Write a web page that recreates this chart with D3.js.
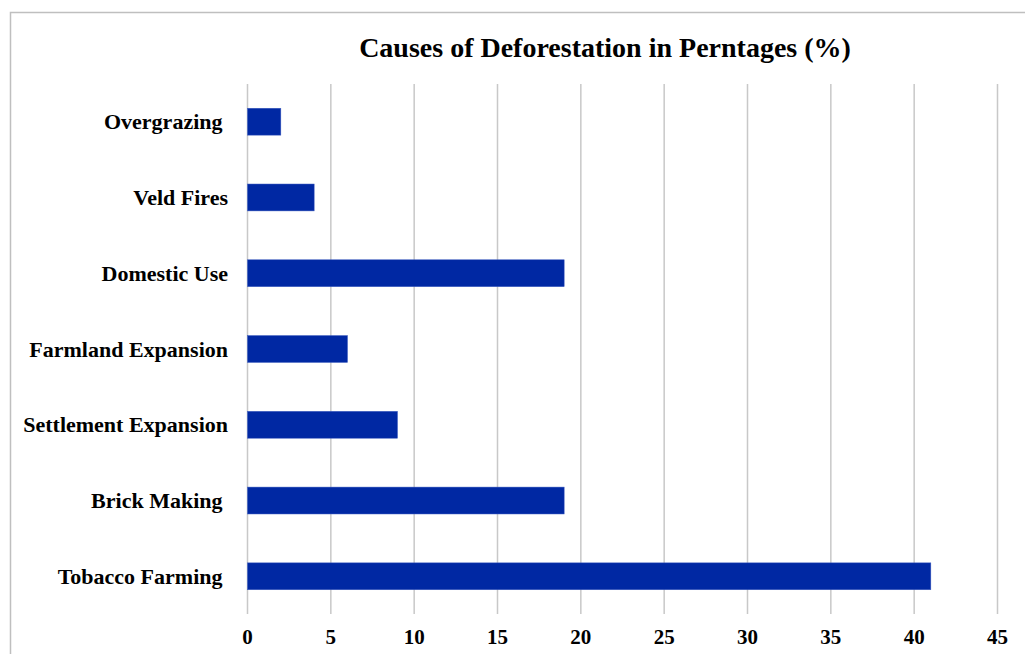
<!DOCTYPE html>
<html>
<head>
<meta charset="utf-8">
<script src="https://cdn.jsdelivr.net/npm/d3@7"></script>
<style>
  body { margin: 0; background: #fff; }
  svg { display: block; }
  .cat { white-space: pre; }
</style>
</head>
<body>
<div id="chart"></div>
<script>
const title = 'Causes of Deforestation in Perntages (%)';
const categories = ['Overgrazing ', 'Veld Fires', 'Domestic Use', 'Farmland Expansion', 'Settlement Expansion', 'Brick Making ', 'Tobacco Farming '];
const values = [2, 4, 19, 6, 9, 19, 41];
const xTicks = [0, 5, 10, 15, 20, 25, 30, 35, 40, 45];

const width = 1025;
const height = 654;
const margin = { top: 84, right: 28, bottom: 40, left: 247 };

const svg = d3.select('#chart').append('svg')
  .attr('width', width)
  .attr('height', height);

// outer frame, cut off on right and bottom like the source
svg.append('rect')
  .attr('x', 10.5)
  .attr('y', 12.5)
  .attr('width', width)
  .attr('height', height)
  .attr('fill', 'none')
  .attr('stroke', '#bfbfbf')
  .attr('stroke-width', 1.5);

const x = d3.scaleLinear()
  .domain([0, 45])
  .range([margin.left, width - margin.right]);

const y = d3.scaleBand()
  .domain(categories)
  .range([margin.top, height - margin.bottom])
  .paddingInner(0.645)
  .paddingOuter(0.32);

const font = '"Liberation Serif", "Times New Roman", serif';

svg.append('text')
  .attr('x', 605)
  .attr('y', 57)
  .attr('text-anchor', 'middle')
  .attr('font-family', font)
  .attr('font-weight', 'bold')
  .attr('font-size', 28)
  .attr('fill', '#000')
  .text(title);

// gridlines
svg.append('g')
  .selectAll('line')
  .data(xTicks)
  .join('line')
  .attr('x1', d => x(d) + 0.5)
  .attr('x2', d => x(d) + 0.5)
  .attr('y1', margin.top)
  .attr('y2', 614)
  .attr('stroke', '#c8c8c8')
  .attr('stroke-width', 1.5);

// bars
svg.append('g')
  .selectAll('rect')
  .data(categories)
  .join('rect')
  .attr('x', x(0) + 0.5)
  .attr('y', d => y(d))
  .attr('width', (d, i) => x(values[i]) - x(0))
  .attr('height', y.bandwidth())
  .attr('fill', '#0028a3')
  .attr('stroke', '#3d5cc0')
  .attr('stroke-width', 0.5);

// category labels
svg.append('g')
  .selectAll('text')
  .data(categories)
  .join('text')
  .attr('class', 'cat')
  .attr('x', 228)
  .attr('y', d => y(d) + y.bandwidth() / 2)
  .attr('dy', '0.35em')
  .attr('text-anchor', 'end')
  .attr('font-family', font)
  .attr('font-weight', 'bold')
  .attr('font-size', 22)
  .attr('fill', '#000')
  .text(d => d);

// x tick labels
const xAxis = svg.append('g')
  .attr('transform', 'translate(0,629)')
  .call(d3.axisBottom(x).tickValues(xTicks).tickSize(0).tickPadding(0));

xAxis.select('.domain').remove();
xAxis.selectAll('text')
  .attr('dy', '0.71em')
  .attr('font-family', font)
  .attr('font-weight', 'bold')
  .attr('font-size', 21)
  .attr('fill', '#000');
</script>
</body>
</html>
